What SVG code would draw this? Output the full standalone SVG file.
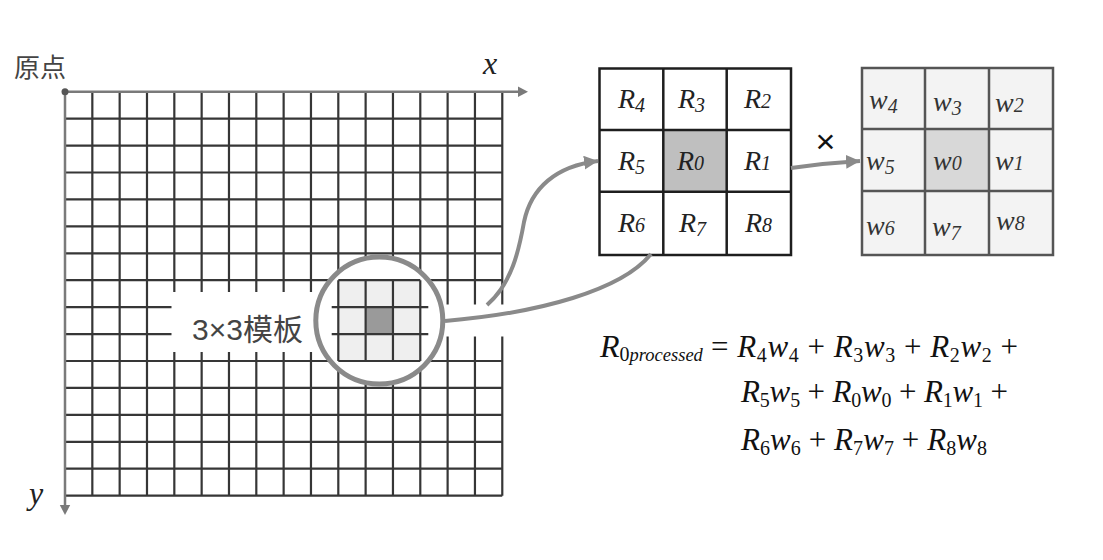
<svg xmlns="http://www.w3.org/2000/svg" width="1103" height="560" viewBox="0 0 1103 560">
<defs>
<style>
.grid{stroke:#363636;stroke-width:2.2;fill:none}
.axis{stroke:#7a7a7a;stroke-width:2.5;fill:none}
.conn{stroke:#8a8a8a;stroke-width:4;fill:none}
.cjk{font-family:"Liberation Sans","Noto Sans CJK SC",sans-serif;fill:#444}
.it{font-family:"Liberation Serif",serif;font-style:italic;fill:#222}
.rl{font-family:"Liberation Serif",serif;font-style:italic;font-size:28px;fill:#222}
.wl{font-family:"Liberation Serif",serif;font-style:italic;font-size:28px;fill:#333}
.d{font-size:20px}
.fm{font-family:"Liberation Serif",serif;font-size:31px;fill:#111}
.fi{font-style:italic}
.fs{font-size:20px}
.rcell{fill:#fff;stroke:#1e1e1e;stroke-width:2.5}
.wcell{fill:#f3f3f3;stroke:#555;stroke-width:2.5}
</style>
<marker id="ah" markerUnits="userSpaceOnUse" markerWidth="16" markerHeight="14" refX="14" refY="7" orient="auto">
<path d="M0,0 L14,7 L0,14 z" fill="#8a8a8a"/>
</marker>
</defs>
<rect width="1103" height="560" fill="#fff"/>

<g id="grid">
<text class="cjk" x="14" y="77" font-size="26">原点</text>
<path class="grid" d="M92.33,91.7V495.65M119.66,91.7V495.65M146.99,91.7V495.65M174.32,91.7V495.65M201.65,91.7V495.65M228.98,91.7V495.65M256.31,91.7V495.65M283.64,91.7V495.65M310.97,91.7V495.65M338.3,91.7V495.65M365.63,91.7V495.65M392.96,91.7V495.65M420.29,91.7V495.65M447.62,91.7V495.65M474.95,91.7V495.65M502.28,91.7V495.65M65,118.63H502.28M65,145.56H502.28M65,172.49H502.28M65,199.42H502.28M65,226.35H502.28M65,253.28H502.28M65,280.21H502.28M65,307.14H502.28M65,334.07H502.28M65,361H502.28M65,387.93H502.28M65,414.86H502.28M65,441.79H502.28M65,468.72H502.28M65,495.65H502.28"/>
<rect x="171.5" y="292" width="146" height="60" fill="#fff"/>
<rect x="440" y="304.5" width="66" height="32" fill="#fff"/>
<path class="axis" d="M65,91.7H520M65,91.7V507"/>
<path d="M528,91.7 L518,86.5 L518,96.9 z" fill="#7a7a7a"/>
<path d="M65,515 L59.8,505 L70.2,505 z" fill="#7a7a7a"/>
<circle cx="65" cy="91.7" r="3.5" fill="#555"/>
<text class="it" x="483" y="74" font-size="32">x</text>
<text class="it" x="29" y="504" font-size="32">y</text>
<text class="cjk" x="192" y="340" font-size="30">3×3模板</text>
</g>

<g id="template-circle">
<circle cx="379.3" cy="320.6" r="63.5" fill="#fff" stroke="#8a8a8a" stroke-width="5"/>
<rect x="338.3" y="280.21" width="81.99" height="80.79" fill="#efefef"/>
<rect x="365.63" y="307.14" width="27.33" height="26.93" fill="#9a9a9a"/>
<path class="grid" d="M338.3,280.21V361M365.63,280.21V361M392.96,280.21V361M420.29,280.21V361M338.3,280.21H420.29M338.3,361H420.29M331.7,307.14H428.3M331.7,334.07H428.3"/>
</g>

<g id="matrix-R">
<rect class="rcell" x="599.5" y="68.5" width="191.5" height="186.5"/>
<rect x="663.3" y="130" width="63.4" height="61.7" fill="#bfbfbf"/>
<path d="M663.3,68.5V255M726.7,68.5V255M599.5,130H791M599.5,191.7H791" stroke="#1e1e1e" stroke-width="2.5" fill="none"/>
<text class="rl" x="618" y="108">R<tspan class="d" dy="4">4</tspan></text>
<text class="rl" x="678" y="108">R<tspan class="d" dy="4">3</tspan></text>
<text class="rl" x="744" y="108">R<tspan class="d">2</tspan></text>
<text class="rl" x="618" y="170">R<tspan class="d" dy="4">5</tspan></text>
<text class="rl" x="677" y="170">R<tspan class="d">0</tspan></text>
<text class="rl" x="744" y="170">R<tspan class="d">1</tspan></text>
<text class="rl" x="618" y="232">R<tspan class="d">6</tspan></text>
<text class="rl" x="679" y="232">R<tspan class="d" dy="4">7</tspan></text>
<text class="rl" x="745" y="232">R<tspan class="d">8</tspan></text>
</g>

<g id="matrix-w">
<rect class="wcell" x="862" y="68" width="191" height="187"/>
<rect x="925" y="129" width="64" height="62" fill="#d8d8d8"/>
<path d="M925,68V255M989,68V255M862,129H1053M862,191H1053" stroke="#555" stroke-width="2.5" fill="none"/>
<text class="wl" x="869" y="109">w<tspan class="d" dy="4">4</tspan></text>
<text class="wl" x="933" y="111">w<tspan class="d" dy="4">3</tspan></text>
<text class="wl" x="995" y="112">w<tspan class="d">2</tspan></text>
<text class="wl" x="866" y="170">w<tspan class="d" dy="4">5</tspan></text>
<text class="wl" x="933" y="170">w<tspan class="d">0</tspan></text>
<text class="wl" x="995" y="170">w<tspan class="d">1</tspan></text>
<text class="wl" x="866" y="235">w<tspan class="d">6</tspan></text>
<text class="wl" x="932" y="236">w<tspan class="d" dy="4">7</tspan></text>
<text class="wl" x="996" y="230">w<tspan class="d">8</tspan></text>
</g>

<g id="connectors">
<path class="conn" d="M487,305 C512,283 519,250 524,222 C531,188 556,166 598,161" marker-end="url(#ah)"/>
<path class="conn" d="M445,321 C540,313 622,290 651,254"/>
<path class="conn" d="M791,168 Q826,163 860,161" marker-end="url(#ah)"/>
<text x="825.5" y="153" font-family="Liberation Sans,sans-serif" font-size="34" text-anchor="middle" fill="#111">×</text>
</g>

<g id="formula">
<text class="fm" x="600" y="357"><tspan class="fi" font-size="32px">R</tspan><tspan class="fs" dy="4">0</tspan><tspan class="fi" font-size="18.5px">processed</tspan></text>
<text class="fm" x="711" y="357" textLength="307">= <tspan class="fi">R</tspan><tspan class="fs" dy="5">4</tspan><tspan class="fi" dy="-5">w</tspan><tspan class="fs" dy="5">4</tspan><tspan dy="-5"> + </tspan><tspan class="fi">R</tspan><tspan class="fs" dy="5">3</tspan><tspan class="fi" dy="-5">w</tspan><tspan class="fs" dy="5">3</tspan><tspan dy="-5"> + </tspan><tspan class="fi">R</tspan><tspan class="fs" dy="5">2</tspan><tspan class="fi" dy="-5">w</tspan><tspan class="fs" dy="5">2</tspan><tspan dy="-5"> +</tspan></text>
<text class="fm" x="741" y="402" textLength="267"><tspan class="fi">R</tspan><tspan class="fs" dy="5">5</tspan><tspan class="fi" dy="-5">w</tspan><tspan class="fs" dy="5">5</tspan><tspan dy="-5"> + </tspan><tspan class="fi">R</tspan><tspan class="fs" dy="5">0</tspan><tspan class="fi" dy="-5">w</tspan><tspan class="fs" dy="5">0</tspan><tspan dy="-5"> + </tspan><tspan class="fi">R</tspan><tspan class="fs" dy="5">1</tspan><tspan class="fi" dy="-5">w</tspan><tspan class="fs" dy="5">1</tspan><tspan dy="-5"> +</tspan></text>
<text class="fm" x="741" y="450" textLength="246"><tspan class="fi">R</tspan><tspan class="fs" dy="5">6</tspan><tspan class="fi" dy="-5">w</tspan><tspan class="fs" dy="5">6</tspan><tspan dy="-5"> + </tspan><tspan class="fi">R</tspan><tspan class="fs" dy="5">7</tspan><tspan class="fi" dy="-5">w</tspan><tspan class="fs" dy="5">7</tspan><tspan dy="-5"> + </tspan><tspan class="fi">R</tspan><tspan class="fs" dy="5">8</tspan><tspan class="fi" dy="-5">w</tspan><tspan class="fs" dy="5">8</tspan></text>
</g>
</svg>
